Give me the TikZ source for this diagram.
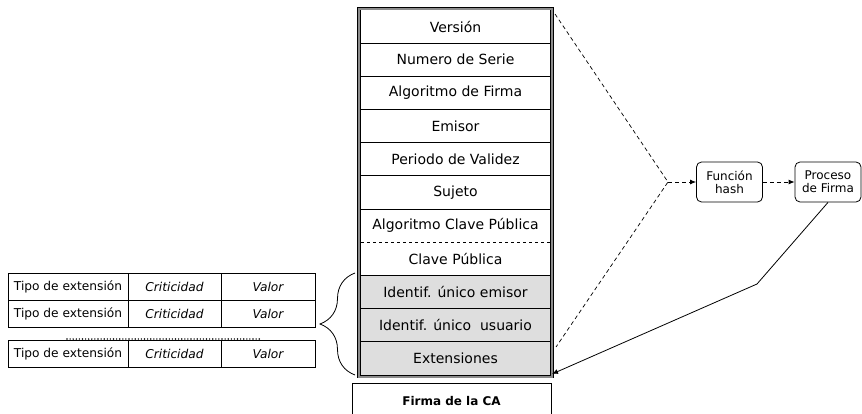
\documentclass[tikz,border=0pt]{standalone}
\usepackage{fontspec}
\setmainfont{DejaVu Sans}
\usetikzlibrary{arrows.meta,positioning,decorations.pathreplacing}
\definecolor{certgray}{HTML}{DEDEDE}
\definecolor{framegray}{HTML}{8C8C8C}
\tikzset{
  fld/.style={minimum width=189pt, minimum height=33.18pt, inner sep=0pt, outer sep=0pt, font=\fontsize{14}{16}\selectfont},
  fldg/.style={fld, fill=certgray},
  rowline/.style={line width=0.8pt},
  cell/.style={draw, line width=0.8pt, minimum height=27pt, inner sep=0pt, outer sep=0pt, font=\fontsize{12.2}{14}\selectfont},
  celli/.style={cell, font=\fontsize{12.2}{14}\selectfont\itshape},
  fnbox/.style={draw, line width=0.8pt, rounded corners=5pt, align=center, minimum width=66pt, minimum height=40pt, inner sep=1pt, font=\fontsize{12}{13}\selectfont},
  arr/.style={-{Latex[length=6pt,width=5pt]}, line width=0.8pt},
  dsh/.style={dash pattern=on 4pt off 3pt, line width=0.7pt},
}

\begin{document}
\begin{tikzpicture}[x=1pt,y=-1pt]
    \useasboundingbox (0,0) rectangle (862,414);
    % campos del certificado
    \foreach \t [count=\i] in {Versión,Numero de Serie,Algoritmo de Firma,Emisor,Periodo de Validez,Sujeto,Algoritmo Clave Pública,Clave Pública} { \node[fld] (f\i) at (455.5,{10+33.18*(\i-0.5)}) {\t}; }
    \foreach \t [count=\i from 9] in {Identif. único emisor,Identif. único~ usuario,Extensiones} { \node[fldg] (f\i) at (455.5,{10+33.18*(\i-0.5)}) {\t}; }
    \foreach \i in {1,...,6,8,9,10} { \draw[rowline] (f\i.south west) -- (f\i.south east); }
    \draw[rowline, dashed] (f7.south west) -- (f7.south east);
    \node[draw, line width=0.8pt, double=framegray, double distance=2pt, outer sep=0pt, minimum width=193pt, minimum height=368pt] (cert) at (455.5,192.6) {};
    \node[draw, line width=0.8pt, outer sep=0pt, minimum width=199pt, minimum height=36pt, font=\fontsize{12}{14}\selectfont\bfseries] (firma) at (451.5,401) {Firma de la CA};
    % tabla de extensiones
    \foreach \r/\y in {1/286.5,2/313.5,3/353.5} {
      \node[cell, minimum width=120pt] (tp\r) at (68,\y) {Tipo de extensión};
      \node[celli, minimum width=93pt, right=0pt of tp\r] (cr\r) {Criticidad};
      \node[celli, minimum width=94pt, right=0pt of cr\r] (va\r) {Valor};
    }
    \draw[line width=1.6pt, line cap=round, dash pattern=on 0pt off 3.1pt] (67,339) -- (262,339);
    \draw[decorate, decoration={brace, amplitude=35pt}, line width=0.8pt] (355,375) -- (355,273);
    % hash y firma
    \node[fnbox] (hash) at (729.5,182) {Función\\hash};
    \node[fnbox] (proc) at (828,182) {Proceso\\de Firma};
    \coordinate (mix) at (668,182);
    \coordinate (top) at (555,14);
    \coordinate (bot) at (556,347);
    \coordinate (bend) at (757,284);
    \coordinate (tip) at (552,374);
    \draw[dsh] (top) -- (mix) -- (bot);
    \draw[dsh, arr] (mix) -- (hash);
    \draw[dsh, arr] (hash) -- (proc);
    \draw[arr] (proc.south) -- (bend) -- (tip);
\end{tikzpicture}
\end{document}
